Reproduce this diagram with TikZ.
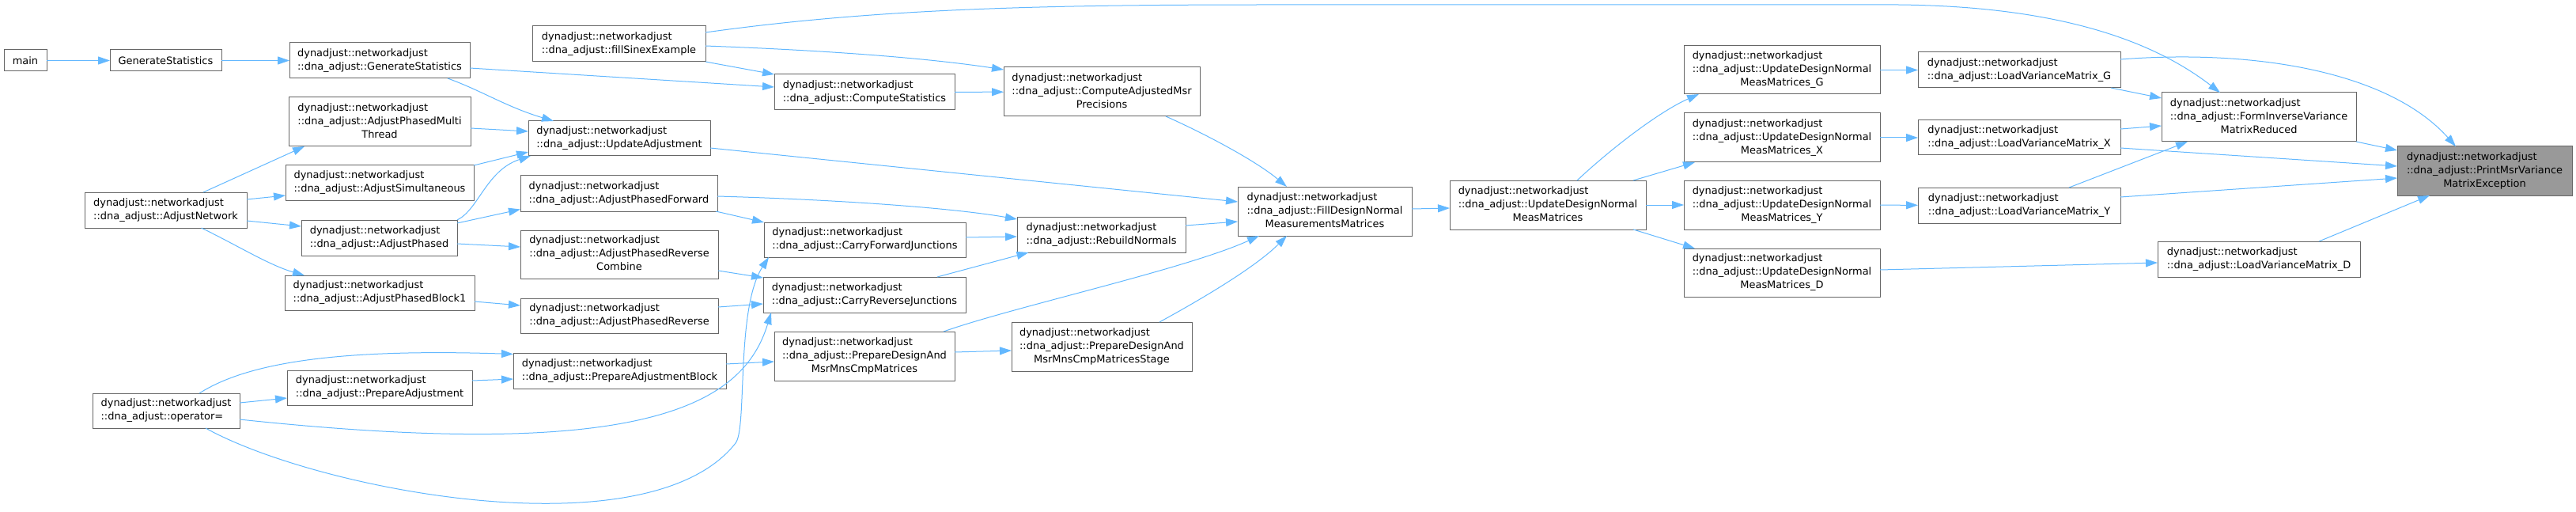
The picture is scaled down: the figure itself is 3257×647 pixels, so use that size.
\documentclass[tikz,border=0pt]{standalone}
\usepackage{fontspec}
\setmainfont{DejaVu Sans}
\usepackage{tikz}
\usetikzlibrary{arrows.meta,positioning,calc}
\usepackage{xcolor}

\definecolor{edgeblue}{HTML}{63B8FF}
\definecolor{boxline}{HTML}{666666}
\definecolor{hilite}{HTML}{999999}

\newcommand{\nodefont}{\fontsize{12.95}{17}\selectfont}
\newcommand{\dnab}[1]{\begin{tabular}{@{}l@{}}dynadjust::networkadjust\\::dna\_adjust::#1\end{tabular}}
\newcommand{\dnac}[2]{\begin{tabular}{@{}l@{}}dynadjust::networkadjust\\::dna\_adjust::#1\\\multicolumn{1}{@{}c@{}}{#2}\end{tabular}}

\begin{document}
\begin{tikzpicture}[x=1pt, y=-1pt,
    fn/.style={draw=boxline, line width=1pt, fill=white, anchor=north west,
               inner xsep=4pt, inner ysep=0pt, outer sep=0pt, font=\nodefont},
    call/.style={draw=edgeblue, line width=1pt, -{Triangle[length=15pt,width=10pt]}}]
    \useasboundingbox (0,0) rectangle (3257,647);

    % Column 0 and 1
    \node[fn, minimum width=54, minimum height=27] (main) at (5,63) {main};
    \node[fn, minimum width=141, minimum height=27] (genstat) at (139,63) {GenerateStatistics};
    \node[fn, minimum width=205, minimum height=45] (anet) at (107,243) {\dnab{AdjustNetwork}};
    \node[fn, minimum width=186, minimum height=44] (opeq) at (117,497) {\dnab{operator=}};

    % Column 2
    \node[fn, minimum width=228, minimum height=45] (gsdna) at (366,54) {\dnab{GenerateStatistics}};
    \node[fn, minimum width=230, minimum height=62] (apmt) at (365,123) {\dnac{AdjustPhasedMulti}{Thread}};
    \node[fn, minimum width=238, minimum height=44] (asim) at (361,209) {\dnab{AdjustSimultaneous}};
    \node[fn, minimum width=197, minimum height=45] (aph) at (381,278) {\dnab{AdjustPhased}};
    \node[fn, minimum width=240, minimum height=44] (apb1) at (360,348) {\dnab{AdjustPhasedBlock1}};
    \node[fn, minimum width=234, minimum height=44] (prepadj) at (363,468) {\dnab{PrepareAdjustment}};

    % Column 3
    \node[fn, minimum width=219, minimum height=45] (sinex) at (673,33) {\dnab{fillSinexExample}};
    \node[fn, minimum width=230, minimum height=44] (updadj) at (668,153) {\dnab{UpdateAdjustment}};
    \node[fn, minimum width=249, minimum height=45] (apfwd) at (658,222) {\dnab{AdjustPhasedForward}};
    \node[fn, minimum width=250, minimum height=61] (aprevc) at (658,291) {\dnac{AdjustPhasedReverse}{Combine}};
    \node[fn, minimum width=250, minimum height=44] (aprev) at (658,377) {\dnab{AdjustPhasedReverse}};
    \node[fn, minimum width=269, minimum height=45] (prepblk) at (649,446) {\dnab{PrepareAdjustmentBlock}};

    % Column 4
    \node[fn, minimum width=228, minimum height=45] (compstat) at (979,94) {\dnab{ComputeStatistics}};
    \node[fn, minimum width=255, minimum height=44] (cfj) at (966,281) {\dnab{CarryForwardJunctions}};
    \node[fn, minimum width=256, minimum height=45] (crj) at (965,350) {\dnab{CarryReverseJunctions}};
    \node[fn, minimum width=228, minimum height=62] (pdmc) at (979,419) {\dnac{PrepareDesignAnd}{MsrMnsCmpMatrices}};

    % Column 5
    \node[fn, minimum width=248, minimum height=62] (camp) at (1269,85) {\dnac{ComputeAdjustedMsr}{Precisions}};
    \node[fn, minimum width=213, minimum height=45] (rebuild) at (1286,274) {\dnab{RebuildNormals}};
    \node[fn, minimum width=228, minimum height=62] (pdmcs) at (1279,407) {\dnac{PrepareDesignAnd}{MsrMnsCmpMatricesStage}};

    % Column 6 to 8
    \node[fn, minimum width=220, minimum height=62] (filldn) at (1565,236) {\dnac{FillDesignNormal}{MeasurementsMatrices}};
    \node[fn, minimum width=248, minimum height=62] (udn) at (1833,228) {\dnac{UpdateDesignNormal}{MeasMatrices}};
    \node[fn, minimum width=248, minimum height=61] (udng) at (2129,58) {\dnac{UpdateDesignNormal}{MeasMatrices\_G}};
    \node[fn, minimum width=248, minimum height=62] (udnx) at (2129,143) {\dnac{UpdateDesignNormal}{MeasMatrices\_X}};
    \node[fn, minimum width=248, minimum height=62] (udny) at (2129,228) {\dnac{UpdateDesignNormal}{MeasMatrices\_Y}};
    \node[fn, minimum width=248, minimum height=61] (udnd) at (2129,314) {\dnac{UpdateDesignNormal}{MeasMatrices\_D}};

    % Column 9 to 11
    \node[fn, minimum width=256, minimum height=45] (lvmg) at (2425,66) {\dnab{LoadVarianceMatrix\_G}};
    \node[fn, minimum width=256, minimum height=44] (lvmx) at (2425,152) {\dnab{LoadVarianceMatrix\_X}};
    \node[fn, minimum width=256, minimum height=45] (lvmy) at (2425,237) {\dnab{LoadVarianceMatrix\_Y}};
    \node[fn, minimum width=256, minimum height=45] (lvmd) at (2728,305) {\dnab{LoadVarianceMatrix\_D}};
    \node[fn, minimum width=246, minimum height=62] (finv) at (2733,117) {\dnac{FormInverseVariance}{MatrixReduced}};
    \node[fn, minimum width=221, minimum height=62, fill=hilite] (print) at (3031,185) {\dnac{PrintMsrVariance}{MatrixException}};

    % Calls, left part
    \draw[call] (main) -- (genstat);
    \draw[call] (genstat) -- (gsdna);
    \draw[call] ([yshift=-9.5]gsdna.east) -- ([yshift=6.5]compstat.west);
    \draw[call] ([xshift=-28]gsdna.south east) .. controls (610,115) and (640,135) .. ([xshift=32]updadj.north west);
    \draw[call] ([yshift=-8]apmt.east) -- ([yshift=9]updadj.west);
    \draw[call] (asim.north east) -- ([yshift=5]updadj.south west);
    \draw[call] (aph.north east) .. controls (605,265) and (615,215) .. ([xshift=3]updadj.south west);
    \draw[call] ([yshift=18.5]aph.east) -- ([yshift=-20]apfwd.west);
    \draw[call] ([yshift=-7.5]aph.east) -- ([yshift=9.5]aprevc.west);
    \draw[call] ([xshift=47.5]anet.north) -- ([xshift=-95]apmt.south);
    \draw[call] ([yshift=13.5]anet.east) -- ([yshift=-16]asim.west);
    \draw[call] ([yshift=-13.5]anet.east) -- ([yshift=14.5]aph.west);
    \draw[call] ([xshift=45]anet.south) .. controls (300,310) and (340,335) .. ([xshift=-95]apb1.north);
    \draw[call] ([yshift=-11]apb1.east) -- ([yshift=13]aprev.west);
    \draw[call] ([xshift=42]opeq.north) .. controls (310,460) and (420,440) .. ([yshift=21]prepblk.west);
    \draw[call] ([yshift=10]opeq.east) -- ([yshift=-13]prepadj.west);
    \draw[call] ([yshift=9]prepadj.east) -- ([yshift=-10.5]prepblk.west);
    \draw[call] ([yshift=-11]opeq.east) .. controls (820,585) and (940,510) .. ([xshift=10]crj.south west);
    \draw[call] ([xshift=50]opeq.south) .. controls (400,619) and (820,700) .. (930,560)
        .. controls (945,541) and (930,390) .. ([xshift=6]cfj.south west);

    % Calls, middle part
    \draw[call] ([yshift=8.5]prepblk.east) -- ([yshift=-7]pdmc.west);
    \draw[call] ([yshift=-20.5]aprevc.east) -- ([yshift=-1]crj.north west);
    \draw[call] ([yshift=11]aprev.east) -- ([yshift=-11.5]crj.west);
    \draw[call] ([xshift=-2]apfwd.south east) -- (cfj.north west);
    \draw[call] ([yshift=-3.5]apfwd.east) .. controls (1050,252) and (1200,262) .. ([yshift=19.5]rebuild.west);
    \draw[call] ([yshift=-12]updadj.east) -- ([yshift=12]filldn.west);
    \draw[call] (sinex.south east) -- (compstat.north west);
    \draw[call] ([yshift=-2.5]sinex.east) .. controls (1000,62) and (1150,70) .. ([yshift=28]camp.west);
    \draw[call] ([yshift=-8]sinex.north east) .. controls (1100,12) and (1300,6) .. (1600,6) -- (2400,6)
        .. controls (2600,8) and (2720,50) .. ([xshift=-49]finv.north);
    \draw[call] (compstat) -- (camp);
    \draw[call] ([xshift=81]camp.south) .. controls (1530,172) and (1590,205) .. ([xshift=-48]filldn.north);
    \draw[call] ([yshift=3]cfj.east) -- ([yshift=-2.5]rebuild.west);
    \draw[call] ([xshift=92]crj.north) -- ([xshift=-92]rebuild.south);
    \draw[call] ([xshift=100]pdmc.north) .. controls (1280,388) and (1500,340) .. ([xshift=-83]filldn.south);
    \draw[call] ([yshift=5]pdmc.east) -- ([yshift=-5]pdmcs.west);
    \draw[call] ([xshift=73]pdmcs.north) .. controls (1530,372) and (1590,335) .. ([xshift=-48]filldn.south);
    \draw[call] ([yshift=11.5]rebuild.east) -- ([yshift=-13]filldn.west);

    % Calls, right part
    \draw[call] ([yshift=3]filldn.east) -- ([yshift=-4]udn.west);
    \draw[call] ([xshift=37]udn.north) .. controls (2040,185) and (2100,140) .. ([xshift=19]udng.south west);
    \draw[call] ([xshift=-16]udn.north east) -- ([xshift=14]udnx.south west);
    \draw[call] (udn) -- (udny);
    \draw[call] ([xshift=-16]udn.south east) -- ([xshift=14]udnd.north west);
    \draw[call] (udng) -- (lvmg);
    \draw[call] (udnx) -- (lvmx);
    \draw[call] (udny) -- (lvmy);
    \draw[call] ([yshift=3.5]udnd.east) -- ([yshift=-4.5]lvmd.west);
    \draw[call] ([xshift=-12]lvmg.south east) -- ([yshift=24]finv.west);
    \draw[call] ([yshift=11]lvmx.east) -- ([yshift=-11]finv.west);
    \draw[call] ([xshift=63]lvmy.north) -- ([xshift=-90]finv.south);
    \draw[call] ([yshift=13.5]lvmg.east) .. controls (2850,62) and (3020,90) .. ([xshift=-36.5]print.north);
    \draw[call] (finv.south east) -- ([yshift=26]print.west);
    \draw[call] ([yshift=-13]lvmx.east) -- ([yshift=6]print.west);
    \draw[call] ([yshift=10.5]lvmy.east) -- ([yshift=-9]print.west);
    \draw[call] ([xshift=76]lvmd.north) -- ([xshift=-69.5]print.south);
\end{tikzpicture}
\end{document}
